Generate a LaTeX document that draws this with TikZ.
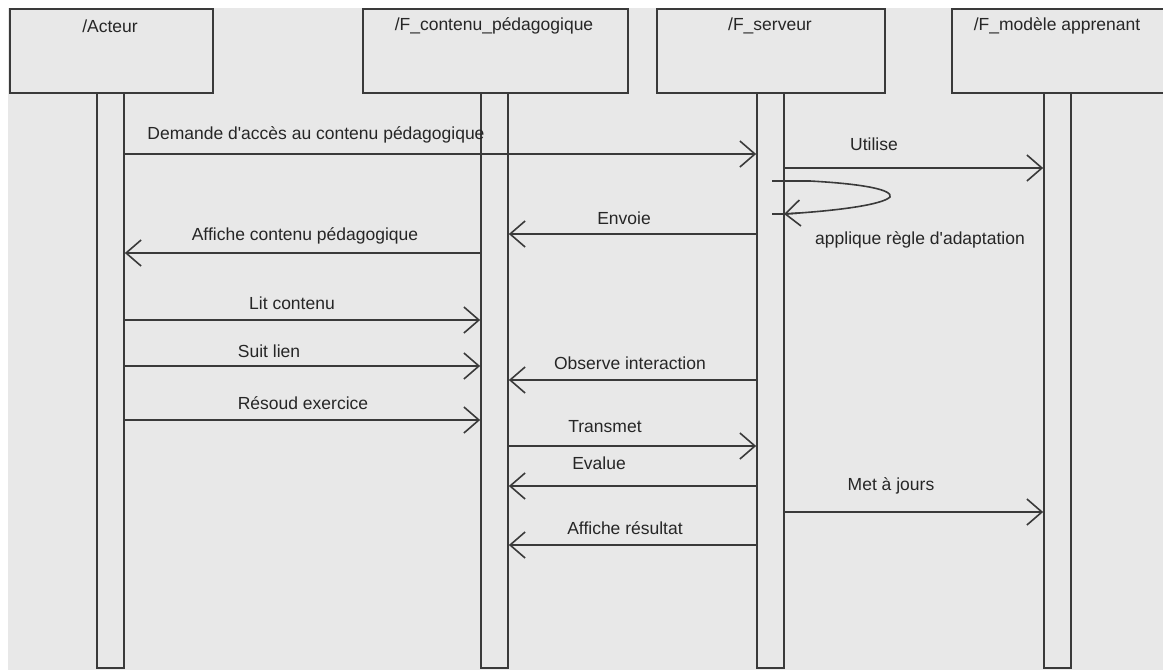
\documentclass[tikz,border=0pt]{standalone}
\usepackage{fontspec}
\setmainfont{Liberation Sans}
\usetikzlibrary{arrows.meta}
\definecolor{bg}{HTML}{E8E8E8}
\definecolor{ln}{HTML}{3A3A3A}
\definecolor{txt}{HTML}{262626}
\begin{document}
\begin{tikzpicture}[x=1pt,y=-1pt,
  headbox/.style={draw=ln,line width=1.7pt,fill=bg,anchor=north west,inner sep=0pt,minimum height=84pt},
  lifebar/.style={draw=ln,line width=1.7pt,fill=bg,anchor=north,inner sep=0pt,minimum width=27pt,minimum height=575pt},
  msg/.style={draw=ln,line width=1.6pt,-{Straight Barb[length=15pt,width=26pt]}},
  lbl/.style={font=\fontsize{17.5}{20}\selectfont,text=txt,inner sep=0pt},
  ttl/.style={font=\fontsize{17.5}{20}\selectfont,text=txt,inner sep=0pt}]
\useasboundingbox (0,0) rectangle (1163,670);
\fill[white] (0,0) rectangle (1163,670);
\fill[bg] (8,8) rectangle (1163,670);
% lifelines
\node[lifebar] (bA) at (110.5,92) {};
\node[lifebar] (bC) at (494.5,92) {};
\node[lifebar] (bS) at (770.5,92) {};
\node[lifebar] (bM) at (1057.5,92) {};
% heads
\node[headbox,minimum width=203pt] (hA) at (9,8) {};
\node[headbox,minimum width=265pt] (hC) at (362,8) {};
\node[headbox,minimum width=228pt] (hS) at (656,8) {};
\node[headbox,minimum width=216pt] (hM) at (951,8) {};
\node[ttl] (tA) at (110,26) {/Acteur};
\node[ttl] (tC) at (494,26) {/F\_contenu\_pédagogique};
\node[ttl] (tS) at (770,26) {/F\_serveur};
\node[ttl] (tM) at (1057,26) {/F\_modèle apprenant};
% messages
\draw[msg] (bA.east |- 0,154) -- (bS.west |- 0,154);
\node[lbl] (m1) at (316,135) {Demande d\textquotesingle accès au contenu pédagogique};
\draw[msg] (bS.east |- 0,168) -- (bM.west |- 0,168);
\node[lbl] (m2) at (874,144) {Utilise};
% self loop
\coordinate (s1) at (772,181);
\coordinate (s2) at (890,197);
\coordinate (s3) at (784,214);
\coordinate (s4) at (772,214);
\draw[draw=ln,line width=1.6pt] (s1) -- (810,181) .. controls (865,184) and (893,190) .. (s2) .. controls (882,205) and (835,211) .. (s3) -- (s4);
\draw[msg] (800,213) -- (s3);
\node[lbl] (m3) at (920,240) {applique règle d\textquotesingle adaptation};
\draw[msg] (bS.west |- 0,234) -- (bC.east |- 0,234);
\node[lbl] (m4) at (624,218) {Envoie};
\draw[msg] (bC.west |- 0,253) -- (bA.east |- 0,253);
\node[lbl] (m5) at (305,236) {Affiche contenu pédagogique};
\draw[msg] (bA.east |- 0,320) -- (bC.west |- 0,320);
\node[lbl] (m6) at (292,303) {Lit contenu};
\draw[msg] (bA.east |- 0,366) -- (bC.west |- 0,366);
\node[lbl] (m7) at (269,351) {Suit lien};
\draw[msg] (bS.west |- 0,380) -- (bC.east |- 0,380);
\node[lbl] (m8) at (630,363) {Observe interaction};
\draw[msg] (bA.east |- 0,420) -- (bC.west |- 0,420);
\node[lbl] (m9) at (303,403) {Résoud exercice};
\draw[msg] (bC.east |- 0,446) -- (bS.west |- 0,446);
\node[lbl] (m10) at (605,427) {Transmet};
\draw[msg] (bS.west |- 0,486) -- (bC.east |- 0,486);
\node[lbl] (m11) at (599,463) {Evalue};
\draw[msg] (bS.east |- 0,512) -- (bM.west |- 0,512);
\node[lbl] (m12) at (891,486) {Met à jours};
\draw[msg] (bS.west |- 0,545) -- (bC.east |- 0,545);
\node[lbl] (m13) at (625,528) {Affiche résultat};
\end{tikzpicture}
\end{document}
